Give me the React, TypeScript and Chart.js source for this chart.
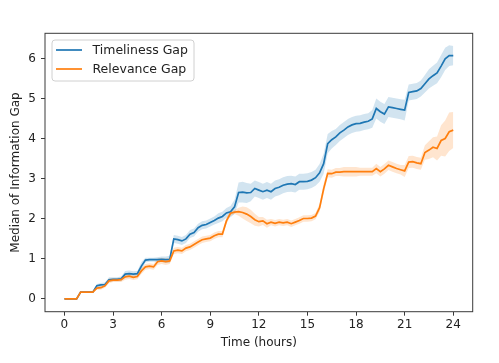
import React, { useEffect, useRef } from "react";
import { Chart, registerables } from "chart.js";

Chart.register(...registerables);

const hours = [
  0, 0.25, 0.5, 0.75, 1, 1.25, 1.5, 1.75, 2, 2.25, 2.5, 2.75, 3, 3.25, 3.5, 3.75,
  4, 4.25, 4.5, 4.75, 5, 5.25, 5.5, 5.75, 6, 6.25, 6.5, 6.75, 7, 7.25, 7.5, 7.75,
  8, 8.25, 8.5, 8.75, 9, 9.25, 9.5, 9.75, 10, 10.25, 10.5, 10.75, 11, 11.25, 11.5, 11.75,
  12, 12.25, 12.5, 12.75, 13, 13.25, 13.5, 13.75, 14, 14.25, 14.5, 14.75, 15, 15.25, 15.5, 15.75,
  16, 16.25, 16.5, 16.75, 17, 17.25, 17.5, 17.75, 18, 18.25, 18.5, 18.75, 19, 19.25, 19.5, 19.75,
  20, 20.25, 20.5, 20.75, 21, 21.25, 21.5, 21.75, 22, 22.25, 22.5, 22.75, 23, 23.25, 23.5, 23.75, 24,
];

const timelinessGap = [
  0, 0, 0, 0, 0.17, 0.17, 0.17, 0.17, 0.33, 0.35, 0.36, 0.48, 0.49, 0.49, 0.5, 0.62,
  0.63, 0.62, 0.63, 0.82, 0.97, 0.98, 0.98, 0.98, 0.99, 0.98, 0.99, 1.5, 1.48, 1.45, 1.5, 1.62,
  1.66, 1.78, 1.84, 1.86, 1.91, 1.96, 2.02, 2.06, 2.15, 2.18, 2.3, 2.66, 2.67, 2.65, 2.66, 2.76,
  2.72, 2.68, 2.72, 2.68, 2.76, 2.79, 2.84, 2.87, 2.88, 2.86, 2.93, 2.93, 2.94, 2.97, 3.03, 3.15,
  3.38, 3.88, 3.98, 4.05, 4.15, 4.22, 4.3, 4.35, 4.38, 4.39, 4.42, 4.44, 4.5, 4.76, 4.68, 4.62,
  4.8, 4.78, 4.76, 4.74, 4.72, 5.16, 5.18, 5.2, 5.26, 5.38, 5.5, 5.58, 5.65, 5.82, 6.0, 6.08, 6.08,
];

const timelinessSpread = [
  0, 0, 0, 0, 0.01, 0.01, 0.01, 0.01, 0.04, 0.05, 0.05, 0.06, 0.05, 0.05, 0.06, 0.08,
  0.08, 0.07, 0.07, 0.1, 0.06, 0.05, 0.05, 0.06, 0.07, 0.08, 0.09, 0.1, 0.1, 0.1, 0.1, 0.1,
  0.1, 0.1, 0.1, 0.1, 0.1, 0.1, 0.12, 0.12, 0.12, 0.14, 0.18, 0.25, 0.26, 0.25, 0.22, 0.2,
  0.2, 0.2, 0.2, 0.2, 0.2, 0.2, 0.2, 0.2, 0.2, 0.2, 0.2, 0.2, 0.2, 0.2, 0.2, 0.22,
  0.25, 0.24, 0.22, 0.2, 0.2, 0.2, 0.2, 0.2, 0.2, 0.2, 0.2, 0.2, 0.22, 0.25, 0.25, 0.25,
  0.25, 0.25, 0.25, 0.25, 0.26, 0.2, 0.2, 0.2, 0.2, 0.22, 0.24, 0.25, 0.26, 0.28, 0.28, 0.26, 0.24,
];

const relevanceGap = [
  0, 0, 0, 0, 0.17, 0.17, 0.17, 0.17, 0.27, 0.28, 0.33, 0.45, 0.47, 0.47, 0.48, 0.55,
  0.57, 0.54, 0.56, 0.7, 0.8, 0.82, 0.8, 0.93, 0.95, 0.93, 0.95, 1.2, 1.22, 1.2, 1.27, 1.3,
  1.36, 1.42, 1.48, 1.5, 1.52, 1.58, 1.62, 1.62, 1.95, 2.14, 2.17, 2.18, 2.16, 2.12, 2.06, 1.98,
  1.93, 1.95, 1.88, 1.92, 1.89, 1.92, 1.9, 1.92, 1.88, 1.92, 1.96, 2.01, 2.01, 2.02, 2.07, 2.28,
  2.75, 3.14, 3.13, 3.17, 3.17, 3.18, 3.18, 3.18, 3.18, 3.18, 3.18, 3.18, 3.18, 3.26, 3.18, 3.25,
  3.34, 3.3, 3.26, 3.23, 3.2, 3.42, 3.43, 3.4, 3.38, 3.66, 3.72, 3.79, 3.76, 3.96, 4.01, 4.18, 4.22,
];

const relevanceSpread = [
  0, 0, 0, 0, 0.01, 0.01, 0.01, 0.01, 0.04, 0.05, 0.05, 0.06, 0.05, 0.05, 0.06, 0.07,
  0.07, 0.07, 0.07, 0.08, 0.07, 0.07, 0.07, 0.08, 0.08, 0.08, 0.08, 0.08, 0.08, 0.08, 0.08, 0.08,
  0.08, 0.08, 0.08, 0.08, 0.08, 0.08, 0.08, 0.08, 0.08, 0.06, 0.05, 0.1, 0.15, 0.17, 0.17, 0.15,
  0.12, 0.1, 0.1, 0.08, 0.08, 0.08, 0.08, 0.08, 0.08, 0.08, 0.08, 0.08, 0.08, 0.08, 0.08, 0.1,
  0.12, 0.1, 0.1, 0.1, 0.1, 0.12, 0.12, 0.12, 0.12, 0.1, 0.1, 0.1, 0.1, 0.12, 0.12, 0.12,
  0.12, 0.12, 0.12, 0.12, 0.15, 0.15, 0.15, 0.15, 0.15, 0.18, 0.22, 0.25, 0.3, 0.38, 0.45, 0.48, 0.45,
];

const xTicks = [0, 3, 6, 9, 12, 15, 18, 21, 24];
const yTicks = [0, 1, 2, 3, 4, 5, 6];
const seriesLabels = ["Timeliness Gap", "Relevance Gap"];

const BLUE = "#1f77b4";
const ORANGE = "#ff7f0e";
const FONT = "'DejaVu Sans', Verdana, sans-serif";
const FS = 12;

const pts = (vals: number[]) => hours.map((h, i) => ({ x: h, y: vals[i] }));

const frameAndLegend = {
  id: "frameAndLegend",
  afterDatasetsDraw(chart: any) {
    const { ctx, chartArea: a } = chart;
    ctx.save();
    ctx.strokeStyle = "#3a3a3a";
    ctx.lineWidth = 1;
    ctx.strokeRect(a.left, a.top, a.right - a.left, a.bottom - a.top);
    ctx.restore();
  },
  afterDraw(chart: any) {
    const { ctx } = chart;
    ctx.save();
    const bx = 52, by = 40, bw = 142, bh = 41, r = 3;
    ctx.beginPath();
    ctx.moveTo(bx + r, by);
    ctx.lineTo(bx + bw - r, by);
    ctx.quadraticCurveTo(bx + bw, by, bx + bw, by + r);
    ctx.lineTo(bx + bw, by + bh - r);
    ctx.quadraticCurveTo(bx + bw, by + bh, bx + bw - r, by + bh);
    ctx.lineTo(bx + r, by + bh);
    ctx.quadraticCurveTo(bx, by + bh, bx, by + bh - r);
    ctx.lineTo(bx, by + r);
    ctx.quadraticCurveTo(bx, by, bx + r, by);
    ctx.closePath();
    ctx.fillStyle = "rgba(255,255,255,0.8)";
    ctx.fill();
    ctx.strokeStyle = "#d0d0d0";
    ctx.lineWidth = 1;
    ctx.stroke();
    const colors = [BLUE, ORANGE];
    const ys = [50, 69];
    ctx.font = `12.5px ${FONT}`;
    ctx.textBaseline = "middle";
    ctx.textAlign = "left";
    seriesLabels.forEach((lab, i) => {
      ctx.strokeStyle = colors[i];
      ctx.lineWidth = 1.7;
      ctx.beginPath();
      ctx.moveTo(56, ys[i]);
      ctx.lineTo(82, ys[i]);
      ctx.stroke();
      ctx.fillStyle = "#222";
      ctx.fillText(lab, 92.5, ys[i] + 0.5);
    });
    ctx.restore();
  },
};

export default function App() {
  const ref = useRef<HTMLCanvasElement | null>(null);
  useEffect(() => {
    document.body.style.margin = "0";
    if (!ref.current) return;
    const chart = new Chart(ref.current, {
      type: "line",
      data: {
        datasets: [
          {
            label: seriesLabels[1],
            data: pts(relevanceGap),
            borderColor: ORANGE,
            borderWidth: 1.7,
            pointRadius: 0,
            fill: false,
            tension: 0,
          },
          {
            label: seriesLabels[0],
            data: pts(timelinessGap),
            borderColor: BLUE,
            borderWidth: 1.7,
            pointRadius: 0,
            fill: false,
            tension: 0,
          },
          {
            label: "rel-lo",
            data: pts(relevanceGap.map((v, i) => v - relevanceSpread[i])),
            borderWidth: 0,
            borderColor: "rgba(0,0,0,0)",
            pointRadius: 0,
            fill: false,
          },
          {
            label: "rel-hi",
            data: pts(relevanceGap.map((v, i) => v + relevanceSpread[i])),
            borderWidth: 0,
            borderColor: "rgba(0,0,0,0)",
            pointRadius: 0,
            fill: "-1",
            backgroundColor: "rgba(255,127,14,0.2)",
          },
          {
            label: "time-lo",
            data: pts(timelinessGap.map((v, i) => Math.max(0, v - timelinessSpread[i]))),
            borderWidth: 0,
            borderColor: "rgba(0,0,0,0)",
            pointRadius: 0,
            fill: false,
          },
          {
            label: "time-hi",
            data: pts(timelinessGap.map((v, i) => v + timelinessSpread[i])),
            borderWidth: 0,
            borderColor: "rgba(0,0,0,0)",
            pointRadius: 0,
            fill: "-1",
            backgroundColor: "rgba(31,119,180,0.2)",
          },
        ],
      },
      options: {
        animation: false,
        responsive: false,
        devicePixelRatio: 1,
        layout: { padding: { left: 0, top: 33.3, right: 26.3, bottom: 0 } },
        plugins: {
          legend: { display: false },
          tooltip: { enabled: false },
          filler: { drawTime: "beforeDatasetsDraw" },
        },
        scales: {
          x: {
            type: "linear",
            min: -1.2,
            max: 25.2,
            afterFit: (s: any) => {
              s.height = 363 - 311.7;
            },
            afterBuildTicks: (s: any) => {
              s.ticks = xTicks.map((v) => ({ value: v }));
            },
            grid: {
              drawOnChartArea: false,
              drawTicks: true,
              tickLength: 4,
              tickColor: "#3a3a3a",
            },
            border: { display: false },
            ticks: {
              color: "#222",
              font: { family: FONT, size: FS },
              padding: 2,
              maxRotation: 0,
              autoSkip: false,
            },
            title: {
              display: true,
              text: "Time (hours)",
              color: "#222",
              font: { family: FONT, size: FS },
              padding: { top: 0, bottom: 12.8 },
            },
          },
          y: {
            type: "linear",
            min: -0.32,
            max: 6.64,
            afterFit: (s: any) => {
              s.width = 45;
            },
            afterBuildTicks: (s: any) => {
              s.ticks = yTicks.map((v) => ({ value: v }));
            },
            grid: {
              drawOnChartArea: false,
              drawTicks: true,
              tickLength: 4,
              tickColor: "#3a3a3a",
            },
            border: { display: false },
            ticks: {
              color: "#222",
              font: { family: FONT, size: FS },
              padding: 5,
            },
            title: {
              display: true,
              text: "Median of Information Gap",
              color: "#222",
              font: { family: FONT, size: FS },
              padding: { top: 8.3, bottom: 0 },
            },
          },
        },
      },
      plugins: [frameAndLegend],
    });
    return () => chart.destroy();
  }, []);
  return (
    <div style={{ position: "absolute", left: 0, top: 0, width: 499, height: 363 }}>
      <canvas ref={ref} width={499} height={363} />
    </div>
  );
}
